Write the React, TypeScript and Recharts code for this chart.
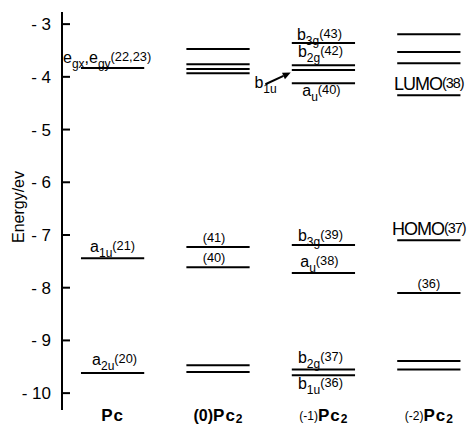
import React from 'react';
import { ComposedChart, XAxis, YAxis, ReferenceLine } from 'recharts';

// column names (index = x position), _{..} subscript
const columns = ['Pc', '(0)Pc_{2}', '(-1)Pc_{2}', '(-2)Pc_{2}'];
const yTicks = [-3, -4, -5, -6, -7, -8, -9, -10];

// orbital energies in eV
const pcLevels = [-3.83, -7.44, -9.62];
const pc0Levels = [-3.47, -3.76, -3.85, -3.93, -7.23, -7.61, -9.47, -9.6];
const pc1Levels = [-3.36, -3.78, -3.87, -4.12, -7.19, -7.72, -9.55, -9.66];
const pc2Levels = [-3.19, -3.53, -3.74, -4.35, -7.1, -8.1, -9.39, -9.55];

// level labels, same order as the levels. ^{..} = small raised text
const pcLabels = ['e_{gx},e_{gy}^{(22,23)}', 'a_{1u}^{(21)}', 'a_{2u}^{(20)}'];
const pc0Labels = ['', '', '', '', '^{(41)}', '^{(40)}', '', ''];
const pc1Labels = ['b_{3g}^{(43)}', 'b_{2g}^{(42)}', '', 'a_{u}^{(40)}', 'b_{3g}^{(39)}', 'a_{u}^{(38)}', 'b_{2g}^{(37)}', 'b_{1u}^{(36)}'];
const pc2Labels = ['', '', '', 'LUMO^{(38)}', 'HOMO^{(37)}', '^{(36)}', '', ''];

// arrow pointing at the b1u level of (-1)Pc2
const arrowTail = { x: 1.45, y: -4.14 };
const arrowHead = { x: 1.69, y: -3.92 };
const arrowLabel = 'b_{1u}';

const levelSets = [pcLevels, pc0Levels, pc1Levels, pc2Levels];
const labelSets = [pcLabels, pc0Labels, pc1Labels, pc2Labels];

const FONT = '"Liberation Sans", Arial, Helvetica, sans-serif';
const HALF = 0.3;

type Place = { dx?: number; dy?: number; anchor?: 'start' | 'middle' | 'end'; size?: number; spacing?: number };

const placement: Record<string, Place> = {
  '0-0': { anchor: 'start', dx: -18, dy: -5 },
  '0-1': { dy: -6 },
  '0-2': { dy: -8, dx: 2 },
  '1-4': { dy: -3, dx: -4 },
  '1-5': { dy: -3, dx: -4 },
  '2-0': { dy: -3, dx: -4 },
  '2-1': { dy: -8, dx: -3 },
  '2-3': { dy: 13, dx: -2 },
  '2-4': { dy: -4, dx: -3 },
  '2-5': { dy: -6, dx: -4 },
  '2-6': { dy: -6, dx: -3 },
  '2-7': { dy: 14, dx: -3 },
  '3-3': { dy: -5, size: 18, spacing: -1 },
  '3-4': { dy: -5, size: 18, spacing: -1 },
  '3-5': { dy: -3 },
};

const RichText = ({ x, y, markup, anchor = 'middle', size = 16, weight = 'normal', spacing = 0 }: any) => {
  const tokens: string[] = markup.match(/_\{[^}]*\}|\^\{[^}]*\}|[^_^]+/g) || [];
  let shift = 0;
  return (
    <text x={x} y={y} textAnchor={anchor} fontFamily={FONT} fontWeight={weight} fill="#000" letterSpacing={spacing}>
      {tokens.map((t, i) => {
        let target = 0;
        let fs = size;
        let txt = t;
        if (t.startsWith('_{')) {
          target = size * 0.3;
          fs = size * 0.75;
          txt = t.slice(2, -1);
        } else if (t.startsWith('^{')) {
          target = -size * 0.12;
          fs = size * 0.8;
          txt = t.slice(2, -1);
        }
        const dy = target - shift;
        shift = target;
        return (
          <tspan key={i} dy={dy} fontSize={fs}>
            {txt}
          </tspan>
        );
      })}
    </text>
  );
};

const LevelLabel = (props: any) => {
  const vb = props.viewBox || { x: 0, y: 0, width: 0 };
  const { markup, dx = 0, dy = -6, anchor = 'middle', size = 16, spacing = 0 } = props;
  const x = anchor === 'start' ? vb.x + dx : vb.x + vb.width / 2 + dx;
  return <RichText x={x} y={vb.y + dy} markup={markup} anchor={anchor} size={size} spacing={spacing} />;
};

const YTick = ({ x, y, payload }: any) => (
  <g>
    <line x1={x} x2={x + 8} y1={y} y2={y} stroke="#000" strokeWidth={2} />
    <text x={x - 11} y={y + 6} textAnchor="end" fontFamily={FONT} fontSize={17} fill="#000">
      {`- ${Math.abs(payload.value)}`}
    </text>
  </g>
);

const ColumnTick = ({ x, y, payload }: any) => {
  const name = columns[payload.value] || '';
  const m = name.match(/^(\([^)]*\))?(.*)$/) || ['', '', name];
  const prefix = m[1] || '';
  const rest = m[2];
  const sub = rest.match(/_\{([^}]*)\}/);
  const main = rest.replace(/_\{[^}]*\}/, '');
  const bigPrefix = prefix === '(0)';
  return (
    <text x={x} y={y + 11} textAnchor="middle" fontFamily={FONT} fill="#000">
      {prefix && (
        <tspan fontSize={bigPrefix ? 16 : 12} fontWeight={bigPrefix ? 'bold' : 'normal'} dy={bigPrefix ? 0 : -1}>
          {prefix}
        </tspan>
      )}
      <tspan fontSize={17} fontWeight="bold" letterSpacing={1} dy={prefix && !bigPrefix ? 1 : 0}>
        {main}
      </tspan>
      {sub && (
        <tspan fontSize={12} fontWeight="bold" dy={2}>
          {sub[1]}
        </tspan>
      )}
    </text>
  );
};

const AxisTitle = (props: any) => {
  const vb = props.viewBox || { x: 0, y: 0, height: 0 };
  const cx = vb.x + 24;
  const cy = vb.y + 195;
  return (
    <text x={cx} y={cy} transform={`rotate(-90 ${cx} ${cy})`} textAnchor="middle" fontFamily={FONT} fontSize={16} fill="#000">
      Energy/ev
    </text>
  );
};

const Arrow = (props: any) => {
  const { x1, y1, x2, y2 } = props;
  const ang = Math.atan2(y2 - y1, x2 - x1);
  const len = 8;
  const w = 3.5;
  const bx = x2 - len * Math.cos(ang);
  const by = y2 - len * Math.sin(ang);
  const px = -Math.sin(ang) * w;
  const py = Math.cos(ang) * w;
  return (
    <g>
      <line x1={x1} y1={y1} x2={bx} y2={by} stroke="#000" strokeWidth={2} />
      <polygon points={`${x2},${y2} ${bx + px},${by + py} ${bx - px},${by - py}`} fill="#000" />
      <RichText x={x1 - 11} y={y1 + 4} markup={arrowLabel} anchor="start" size={16} />
    </g>
  );
};

const chartData = columns.map((name, i) => ({ x: i, name }));

export default function App() {
  return (
    <div style={{ position: 'absolute', left: 0, top: 0, background: '#fff' }}>
      <ComposedChart width={471} height={427} data={chartData} margin={{ top: 12, right: 0, bottom: 0, left: 0 }}>
        <XAxis
          type="number"
          dataKey="x"
          domain={[-0.48, 3.4]}
          ticks={[0, 1, 2, 3]}
          interval={0}
          allowDataOverflow
          axisLine={false}
          tickLine={false}
          tickSize={0}
          tickMargin={0}
          height={17}
          tick={<ColumnTick />}
        />
        <YAxis
          type="number"
          domain={[-10.32, -2.77]}
          ticks={yTicks}
          interval={0}
          allowDataOverflow
          width={62}
          axisLine={{ stroke: '#000', strokeWidth: 2 }}
          tickLine={false}
          tickSize={0}
          tickMargin={0}
          tick={<YTick />}
          label={<AxisTitle />}
        />
        {levelSets.map((levels, c) =>
          levels.map((e, i) => {
            const text = labelSets[c][i];
            const p = placement[`${c}-${i}`] || {};
            return (
              <ReferenceLine
                key={`${c}-${i}`}
                segment={[
                  { x: c - HALF, y: e },
                  { x: c + HALF, y: e },
                ]}
                stroke="#000"
                strokeWidth={2}
                ifOverflow="visible"
                label={text ? <LevelLabel markup={text} {...p} /> : undefined}
              />
            );
          })
        )}
        <ReferenceLine segment={[arrowTail, arrowHead]} ifOverflow="visible" shape={<Arrow />} />
      </ComposedChart>
    </div>
  );
}
